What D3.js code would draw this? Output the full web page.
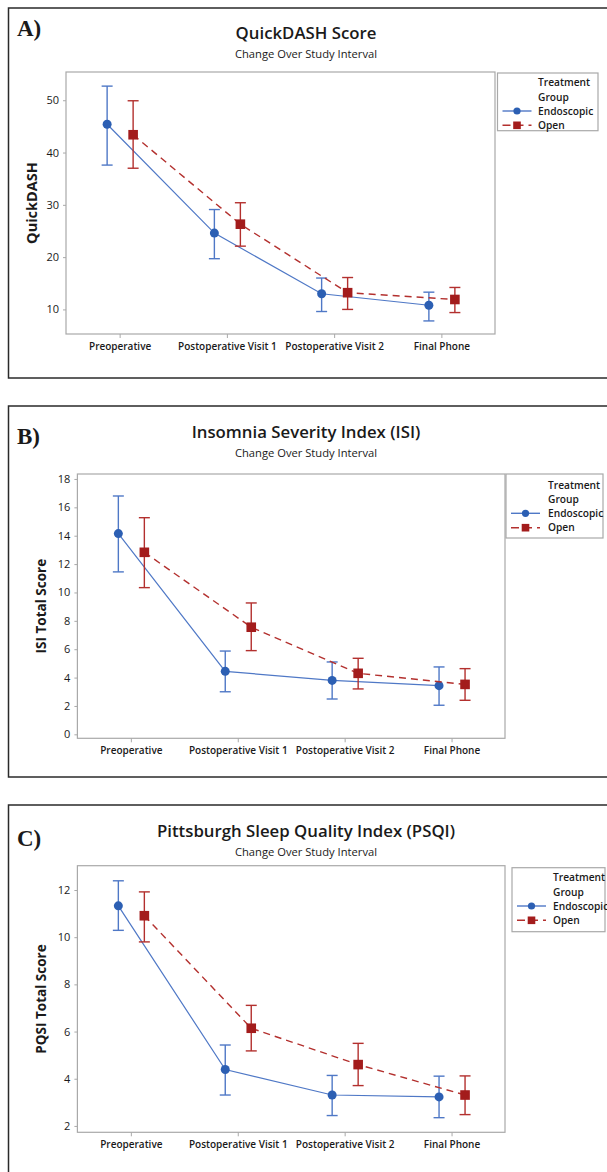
<!DOCTYPE html>
<html>
<head>
<meta charset="utf-8">
<script src="https://cdn.jsdelivr.net/npm/d3@7"></script>
<style>
  html, body { margin: 0; padding: 0; background: #fff; }
  svg { display: block; }
  text { font-family: "Open Sans", "Noto Sans", sans-serif; fill: #1a1a1a; }
</style>
</head>
<body>
<svg id="chart" width="607" height="1172"></svg>
<script>
// ---------- DATA ----------
const categories = ["Preoperative", "Postoperative Visit 1", "Postoperative Visit 2", "Final Phone"];
const seriesNames = ["Endoscopic", "Open"];
const legendTitle = ["Treatment", "Group"];
const subtitleText = "Change Over Study Interval";

// Panel A: QuickDASH
const dashEndoMean = [45.4, 24.6, 13.0, 10.8];
const dashEndoHigh = [52.7, 29.1, 16.0, 13.3];
const dashEndoLow  = [37.6, 19.7, 9.6, 7.8];
const dashOpenMean = [43.4, 26.3, 13.2, 11.9];
const dashOpenHigh = [49.9, 30.4, 16.1, 14.2];
const dashOpenLow  = [37.0, 22.1, 10.0, 9.4];
const dashTicks = [10, 20, 30, 40, 50];

// Panel B: ISI
const isiEndoMean = [14.15, 4.44, 3.80, 3.43];
const isiEndoHigh = [16.80, 5.87, 5.10, 4.75];
const isiEndoLow  = [11.45, 3.00, 2.49, 2.05];
const isiOpenMean = [12.83, 7.55, 4.30, 3.52];
const isiOpenHigh = [15.27, 9.26, 5.36, 4.63];
const isiOpenLow  = [10.34, 5.90, 3.20, 2.40];
const isiTicks = [0, 2, 4, 6, 8, 10, 12, 14, 16, 18];

// Panel C: PSQI
const psqiEndoMean = [11.33, 4.39, 3.31, 3.23];
const psqiEndoHigh = [12.39, 5.43, 4.14, 4.11];
const psqiEndoLow  = [10.29, 3.31, 2.44, 2.35];
const psqiOpenMean = [10.91, 6.14, 4.60, 3.31];
const psqiOpenHigh = [11.92, 7.11, 5.50, 4.12];
const psqiOpenLow  = [9.80, 5.18, 3.71, 2.48];
const psqiTicks = [2, 4, 6, 8, 10, 12];

// ---------- STYLE ----------
const blueLine = "#4f78c6", blueMark = "#2c5fb3";
const redLine = "#b3302e", redMark = "#a31c1c";
const gridGray = "#a9a9a9";

const svg = d3.select("#chart");

function drawPanel(p) {
  const g = svg.append("g");
  // outer frame
  g.append("rect")
    .attr("x", 8.5).attr("y", p.frameTop)
    .attr("width", 620).attr("height", p.frameBottom - p.frameTop)
    .attr("fill", "none").attr("stroke", "#2a2a2a").attr("stroke-width", 1.5);

  // panel letter
  g.append("text").attr("x", 17).attr("y", p.letterY)
    .style("font-family", "'Liberation Serif', 'DejaVu Serif', serif")
    .style("font-weight", "bold").style("font-size", "23px")
    .text(p.letter);

  // title + subtitle
  g.append("text").attr("x", 306).attr("y", p.titleY)
    .attr("text-anchor", "middle").style("font-size", "16.8px").style("font-weight", 600)
    .text(p.title);
  g.append("text").attr("x", 306).attr("y", p.subY)
    .attr("text-anchor", "middle").style("font-size", "11.2px")
    .text(subtitleText);

  const x = d3.scalePoint().domain(categories).range([p.left, p.right]).padding(0.5);
  const y = d3.scaleLinear().domain(p.yDomain).range([p.bottom, p.top]);

  // plot box
  g.append("rect").attr("x", p.left).attr("y", p.top)
    .attr("width", p.right - p.left).attr("height", p.bottom - p.top)
    .attr("fill", "none").attr("stroke", gridGray).attr("stroke-width", 1.2);

  // y axis
  const yAxis = g.append("g").attr("transform", `translate(${p.left},0)`)
    .call(d3.axisLeft(y).tickValues(p.ticks).tickSize(3).tickPadding(4));
  yAxis.select(".domain").remove();
  yAxis.selectAll(".tick line").attr("stroke", gridGray);
  yAxis.selectAll(".tick text").style("font-size", "11px").style("font-family", "'Open Sans', sans-serif").attr("fill", "#1a1a1a");

  // x axis
  const xAxis = g.append("g").attr("transform", `translate(0,${p.bottom})`)
    .call(d3.axisBottom(x).tickSize(4).tickPadding(5));
  xAxis.select(".domain").remove();
  xAxis.selectAll(".tick line").attr("stroke", gridGray);
  xAxis.selectAll(".tick text").style("font-size", "10px").style("font-weight", 600)
    .style("font-family", "'Open Sans', sans-serif").attr("fill", "#1a1a1a");

  // y label
  g.append("text")
    .attr("transform", `translate(${p.ylabX},${(p.top + p.bottom) / 2}) rotate(-90)`)
    .attr("text-anchor", "middle").style("font-size", p.ylabSize).style("font-weight", "bold")
    .text(p.ylabel);

  const series = [
    { name: seriesNames[0], mean: p.endo[0], hi: p.endo[1], lo: p.endo[2], off: -12.5, line: blueLine, mark: blueMark, dash: null, shape: "circle" },
    { name: seriesNames[1], mean: p.open[0], hi: p.open[1], lo: p.open[2], off: 13.5, line: redLine, mark: redMark, dash: "7,5", shape: "square" }
  ];

  series.forEach(s => {
    const pts = categories.map((c, i) => ({ c, i, px: x(c) + s.off }));
    g.append("path")
      .attr("d", d3.line().x(d => d.px).y(d => y(s.mean[d.i]))(pts))
      .attr("fill", "none").attr("stroke", s.line).attr("stroke-width", s.dash ? 1.4 : 1.2)
      .attr("stroke-dasharray", s.dash);
    const eb = g.append("g").attr("stroke", s.line).attr("stroke-width", 1.4).attr("fill", "none");
    pts.forEach(d => {
      eb.append("line").attr("x1", d.px).attr("x2", d.px).attr("y1", y(s.hi[d.i])).attr("y2", y(s.lo[d.i]));
      eb.append("line").attr("x1", d.px - 5.5).attr("x2", d.px + 5.5).attr("y1", y(s.hi[d.i])).attr("y2", y(s.hi[d.i]));
      eb.append("line").attr("x1", d.px - 5.5).attr("x2", d.px + 5.5).attr("y1", y(s.lo[d.i])).attr("y2", y(s.lo[d.i]));
    });
    pts.forEach(d => {
      if (s.shape === "circle") {
        g.append("circle").attr("cx", d.px).attr("cy", y(s.mean[d.i])).attr("r", 4.5).attr("fill", s.mark);
      } else {
        g.append("rect").attr("x", d.px - 4.8).attr("y", y(s.mean[d.i]) - 4.8)
          .attr("width", 9.6).attr("height", 9.6).attr("fill", s.mark);
      }
    });
  });

  // legend
  const L = p.legend;
  g.append("rect").attr("x", L.x0).attr("y", L.y0).attr("width", L.x1 - L.x0).attr("height", L.y1 - L.y0)
    .attr("fill", "#fff").attr("stroke", gridGray).attr("stroke-width", 1.2);
  const rows = [legendTitle[0], legendTitle[1], seriesNames[0], seriesNames[1]];
  rows.forEach((t, i) => {
    g.append("text").attr("x", L.tx).attr("y", L.rows[i]).attr("dy", "0.35em")
      .style("font-size", "10.2px").style("font-weight", 600).text(t);
  });
  const sx0 = L.x0 + 5, sx1 = L.x0 + 34, smx = (sx0 + sx1) / 2;
  g.append("line").attr("x1", sx0).attr("x2", sx1).attr("y1", L.rows[2]).attr("y2", L.rows[2])
    .attr("stroke", blueLine).attr("stroke-width", 1.4);
  g.append("circle").attr("cx", smx).attr("cy", L.rows[2]).attr("r", 3.6).attr("fill", blueMark);
  g.append("line").attr("x1", sx0).attr("x2", sx1).attr("y1", L.rows[3]).attr("y2", L.rows[3])
    .attr("stroke", redLine).attr("stroke-width", 1.4).attr("stroke-dasharray", "8,5");
  g.append("rect").attr("x", smx - 3.8).attr("y", L.rows[3] - 3.8).attr("width", 7.6).attr("height", 7.6).attr("fill", redMark);
}

drawPanel({
  letter: "A)", title: "QuickDASH Score", ylabel: "QuickDASH", ylabSize: "14.5px", ylabX: 37,
  frameTop: 8, frameBottom: 378, letterY: 36, titleY: 39, subY: 58,
  left: 66, right: 495, top: 72, bottom: 334, yDomain: [5.3, 55.4], ticks: dashTicks,
  endo: [dashEndoMean, dashEndoHigh, dashEndoLow], open: [dashOpenMean, dashOpenHigh, dashOpenLow],
  legend: { x0: 497.5, x1: 598, y0: 73, y1: 130.7, tx: 538, rows: [82.7, 97.7, 111, 125.3] }
});

drawPanel({
  letter: "B)", title: "Insomnia Severity Index (ISI)", ylabel: "ISI Total Score", ylabSize: "13.5px", ylabX: 46,
  frameTop: 406, frameBottom: 777, letterY: 444, titleY: 438, subY: 456.5,
  left: 77.4, right: 505, top: 474, bottom: 738.3, yDomain: [-0.28, 18.35], ticks: isiTicks,
  endo: [isiEndoMean, isiEndoHigh, isiEndoLow], open: [isiOpenMean, isiOpenHigh, isiOpenLow],
  legend: { x0: 506, x1: 603, y0: 474, y1: 538, tx: 548, rows: [485, 499.3, 513.3, 527.7] }
});

drawPanel({
  letter: "C)", title: "Pittsburgh Sleep Quality Index (PSQI)", ylabel: "PQSI Total Score", ylabSize: "13.5px", ylabX: 46,
  frameTop: 805, frameBottom: 1200, letterY: 845.5, titleY: 837, subY: 855.5,
  left: 77.4, right: 505, top: 865.7, bottom: 1132.3, yDomain: [1.73, 13.03], ticks: psqiTicks,
  endo: [psqiEndoMean, psqiEndoHigh, psqiEndoLow], open: [psqiOpenMean, psqiOpenHigh, psqiOpenLow],
  legend: { x0: 512, x1: 605, y0: 867.7, y1: 931.7, tx: 553, rows: [877.7, 892.3, 906, 920.3] }
});
</script>
</body>
</html>
